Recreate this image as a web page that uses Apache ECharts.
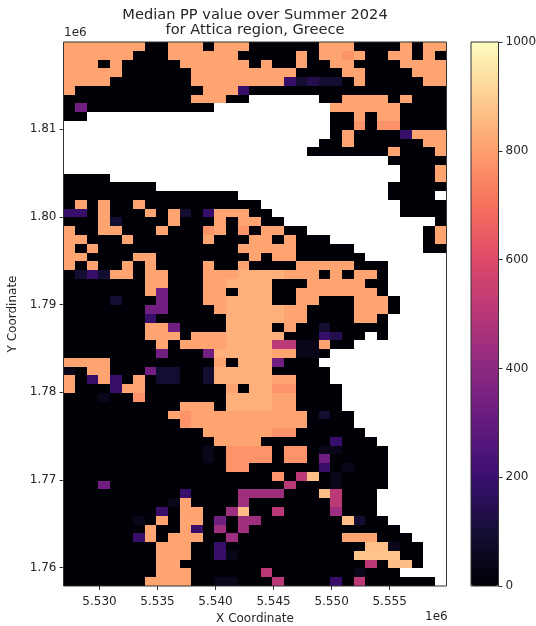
<!DOCTYPE html>
<html><head><meta charset="utf-8">
<script src="https://cdn.jsdelivr.net/npm/echarts@6/dist/echarts.min.js"></script>
<style>html,body{margin:0;padding:0;background:#fff}#c{width:536px;height:626px}</style>
</head><body><div id="c"></div>
<script>
// Estimated PP values for each letter in the grid below ('_' = no data)
const levels = {'.':3, k:45, n:90, w:140, v:190, p:330, q:440, m:510, d:775, o:810, h:835, l:865, L:880};
// Median PP grid, one string per 1 km row (north to south), one letter per 1 km column
const gridRows = [
"ooooooo..ooo.ooo......ooo....o.oo",
"oooooo...oooooo.....o.oodo..oo.o.",
"ooo.o.....oooooo.o..o..oo....oooo",
"ooooo......ooooooooo....oo....ooo",
"oooo.......oooooooovnwnn.o.....oo",
"o...........ooov.................",
"...........ooo..______..oooo.o...",
".p...........__________oooooo....",
".._____________________..o.oo....",
"_______________________..d.dd....",
"_______________________.o....vooo",
"______________________..o......oo",
"_____________________.......o...o",
"____________________________.....",
"_____________________________...o",
"...._________________________...o",
"........____________________.....",
"..............._____________...._",
".o.o..o..........____________....",
"vv.o...o.on.vooo..___________....",
"...on....o...o.oo.._____________.",
"o..oo...o...do.d.oo..__________.o",
"oo...o......o...oo.o...________.o",
"o.o............ooooo.....______..",
"oo....oo........o.oo......_______",
"o.o..o.o....o..o....ooooo..._____",
".nvnoo.oo...ooohhhhooo.o.oo._____",
".......oo...oohhhh...ooooo.._____",
".......op...oo.hhh..ooooooo._____",
"....n...p...oohhhh..oo...ooo.____",
".......pp....ohhhhhoo....ooo.____",
".......v......hhhhhoo....oo._____",
".......oop....hhhh.o..n....._____",
".......ooo.ooohhhhh...vw.._._____",
"........o.oooohhhhmmkko..________",
"........p...phhhhhookk.__________",
"oooo.........o.hhhp...___________",
"k.oo...pnn..nhhhhh.....__________",
"o.vov.o.nn..nhhhhhoo...__________",
"o...voo.......o.hhdd...._________",
"...k..d.......hhhhoo...._________",
"..........ooo.hhhhoo...._________",
".........odoooooooooo.n..________",
"..........doooooooooo....________",
"............oooooodd......_______",
".............oooo......v...______",
"............k.dddd.dd.kk...._____",
"............k.dddd.dd.p....._____",
"..............dd......v.k..._____",
"..................d.ml.k...._____",
"...p...............m...k...._____",
"..........v....qqqq...lm...______",
".........ko....q.......m...______",
"........v.oo..ql..m....q...______",
"......k.o.oo.p.qq.......ln.._____",
".......o..ov.q.q.............____",
"......vo.ooo..q.........ooo...___",
"........ooo..v............llk..__",
"........ooo..vk..........LLLL..__",
"........oo................m.ll.__",
"........ooo......m.......k...____",
".......oooo..kk...m....v.m......_"
];
const xTicks = [5530000,5535000,5540000,5545000,5550000,5555000];
const yTicks = [1760000,1770000,1780000,1790000,1800000,1810000];
const barTicks = [0,200,400,600,800,1000];
const magma = ['#000004','#140e36','#3b0f70','#641a80','#8c2981','#b73779','#de4968','#f7705c','#fe9f6d','#fecf92','#fcfdbf'];
const xOrigin = 5526900, yTop = 1819920, cellSize = 1000;

const nRows = gridRows.length, nCols = gridRows[0].length;
const cells = [];
gridRows.forEach((r,ri)=>{ for(let c=0;c<nCols;c++){ const ch=r[c]; if(ch!=='_'&&ch!==undefined) cells.push([xOrigin+c*cellSize,yTop-ri*cellSize,levels[ch]]); }});

const txt = '#262626', line = '#333';
const chart = echarts.init(document.getElementById('c'),null,{renderer:'canvas'});
const font = {fontFamily:'DejaVu Sans',fontSize:12,color:txt};
chart.setOption({
  animation:false,
  backgroundColor:'#fff',
  title:{text:'Median PP value over Summer 2024\nfor Attica region, Greece',left:250,top:3,textAlign:'center',
    textStyle:{fontFamily:'DejaVu Sans',fontSize:14.6,fontWeight:'normal',color:txt,lineHeight:15}},
  grid:[
    {left:63.5,top:42,width:383,height:544,outerBoundsMode:'none',show:true,borderColor:line,borderWidth:1,backgroundColor:'transparent',z:5},
    {left:471,top:42,width:27.5,height:544,outerBoundsMode:'none',show:true,borderColor:line,borderWidth:1,backgroundColor:'transparent',z:5}
  ],
  xAxis:[
    {type:'value',gridIndex:0,position:'bottom',min:xOrigin,max:xOrigin+nCols*cellSize,scale:true,
      name:'X Coordinate',nameLocation:'middle',nameGap:27,nameTextStyle:font,
      axisLine:{show:false},splitLine:{show:false},
      axisTick:{show:true,length:4,lineStyle:{color:line},customValues:xTicks},
      axisLabel:{...font,margin:10,customValues:xTicks,formatter:v=>(v/1e6).toFixed(3)}},
    {type:'category',gridIndex:1,data:['c'],show:false}
  ],
  yAxis:[
    {type:'value',gridIndex:0,position:'left',min:yTop-nRows*cellSize,max:yTop,scale:true,
      name:'Y Coordinate',nameLocation:'middle',nameGap:42,nameRotate:90,nameTextStyle:font,
      axisLine:{show:false},splitLine:{show:false},
      axisTick:{show:true,length:4,lineStyle:{color:line},customValues:yTicks},
      axisLabel:{...font,margin:7,customValues:yTicks,formatter:v=>(v/1e6).toFixed(2)}},
    {type:'value',gridIndex:1,position:'right',min:0,max:1000,
      axisLine:{show:false},splitLine:{show:false},
      axisTick:{show:true,length:4,lineStyle:{color:line},customValues:barTicks},
      axisLabel:{...font,margin:7,customValues:barTicks,formatter:v=>String(v)}}
  ],
  visualMap:{type:'continuous',min:0,max:1000,dimension:2,seriesIndex:0,calculable:false,hoverLink:false,
    left:471,top:42,itemWidth:27.5,itemHeight:544,text:null,showLabel:false,inRange:{color:magma},
    textStyle:{color:'transparent',fontSize:1},padding:0,z:2},
  series:[{type:'custom',xAxisIndex:0,yAxisIndex:0,data:cells,silent:true,clip:false,
    encode:{x:0,y:1},
    renderItem:function(params,api){
      const x0=api.value(0), y0=api.value(1);
      const a=api.coord([x0,y0]), b=api.coord([x0+cellSize,y0-cellSize]);
      const l=Math.round(a[0]), t=Math.round(a[1]), r=Math.round(b[0]), bt=Math.round(b[1]);
      return {type:'rect',shape:{x:l,y:t,width:r-l,height:bt-t},style:{fill:api.visual('color')}};
    }}],
  graphic:[
    {type:'text',left:64,top:27,style:{text:'1e6',font:'12px "DejaVu Sans"',fill:txt}},
    {type:'text',left:425,top:611,style:{text:'1e6',font:'12px "DejaVu Sans"',fill:txt}}
  ]
});
</script></body></html>
